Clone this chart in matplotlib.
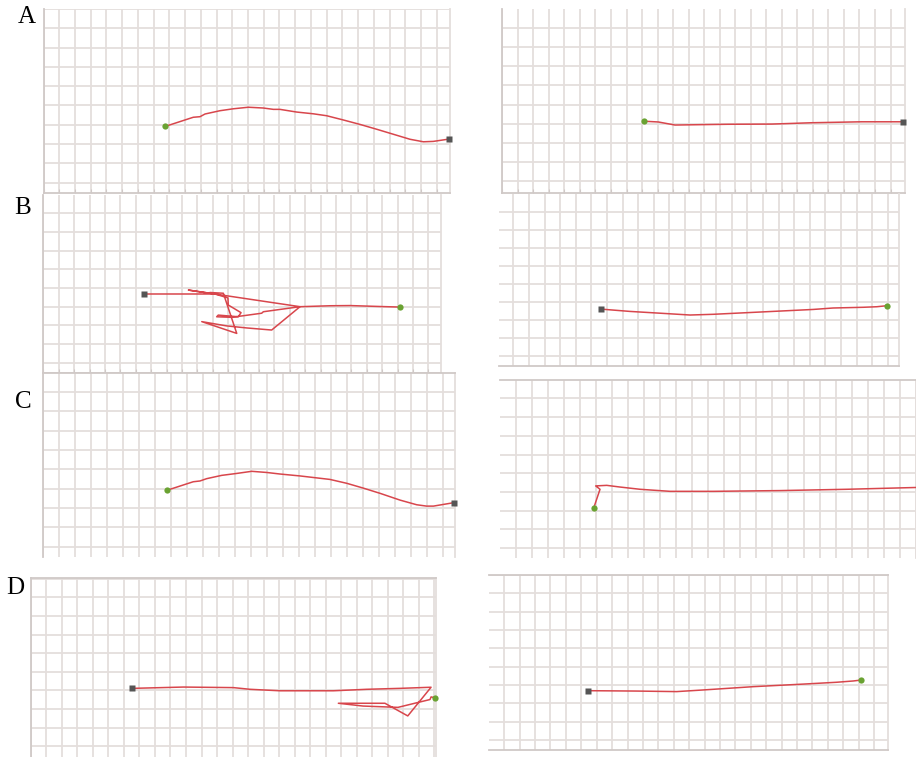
import matplotlib
matplotlib.use("Agg")
import matplotlib.pyplot as plt
from matplotlib.ticker import MultipleLocator

# trajectories in grid-cell units, each ordered from the green dot to the square
a_left_x = [7.75, 9.52, 9.95, 10.27, 11.22, 12.07, 13.02, 13.97, 14.61, 15.03, 16.10,
            17.15, 18.00, 19.06, 20.12, 21.18, 22.24, 23.30, 24.15, 24.78, 25.78]
a_left_y = [2.92, 3.39, 3.42, 3.56, 3.73, 3.83, 3.91, 3.87, 3.80, 3.80, 3.66,
            3.57, 3.47, 3.25, 3.02, 2.77, 2.51, 2.25, 2.12, 2.14, 2.26]

a_right_x = [9.12, 10.05, 11.12, 14.55, 17.35, 19.92, 23.14, 25.82]
a_right_y = [3.13, 3.09, 2.93, 2.97, 2.98, 3.05, 3.10, 3.10]

b_left_x = [23.13, 21.86, 19.92, 18.62, 16.67, 14.83, 13.23, 11.91, 10.29, 12.56, 11.69,
            10.82, 11.99, 12.01, 12.84, 12.66, 11.36, 11.26, 12.23, 14.18, 14.29, 16.67,
            9.42, 11.15, 6.54]
b_left_y = [2.98, 3.01, 3.06, 3.05, 3.00, 1.75, 1.86, 1.97, 2.20, 1.57, 3.72,
            3.76, 3.47, 3.09, 2.68, 2.46, 2.55, 2.46, 2.43, 2.65, 2.73, 3.00,
            3.89, 3.68, 3.68]

b_right_x = [24.98, 24.30, 23.44, 21.50, 20.23, 18.10, 15.96, 13.82, 12.33, 10.62, 8.48, 6.60]
b_right_y = [2.78, 2.72, 2.69, 2.65, 2.57, 2.48, 2.39, 2.30, 2.26, 2.35, 2.46, 2.59]

c_left_x = [7.75, 9.39, 9.81, 10.23, 11.17, 12.11, 13.05, 13.99, 14.82, 16.08, 17.95,
            19.00, 20.04, 21.09, 22.34, 23.38, 24.00, 24.43, 25.72]
c_left_y = [2.92, 3.36, 3.40, 3.52, 3.69, 3.79, 3.90, 3.84, 3.76, 3.66, 3.48,
            3.28, 3.03, 2.76, 2.41, 2.17, 2.10, 2.10, 2.28]

c_right_x = [5.88, 6.27, 6.00, 6.69, 7.52, 8.77, 10.65, 13.35, 17.52, 21.69, 26.20]
c_right_y = [2.15, 3.14, 3.32, 3.35, 3.26, 3.14, 3.03, 3.03, 3.07, 3.14, 3.24]

d_left_x = [26.03, 25.78, 25.71, 25.07, 23.65, 21.40, 19.81, 22.81, 24.28, 25.78, 23.78,
            21.64, 19.49, 16.05, 14.12, 13.05, 9.83, 6.54]
d_left_y = [2.61, 2.65, 2.51, 2.38, 2.09, 2.16, 2.31, 2.31, 1.63, 3.17, 3.11,
            3.06, 2.98, 2.98, 3.06, 3.15, 3.18, 3.11]

d_right_x = [24.16, 23.66, 22.58, 20.42, 17.17, 13.92, 12.19, 9.60, 6.46]
d_right_y = [3.27, 3.22, 3.15, 3.05, 2.91, 2.73, 2.64, 2.67, 2.69]

panel_labels = ["A", "B", "C", "D"]

W, H = 916, 757
GRID = "#e4dedc"
SPINE = "#d0c9c7"
RED = "#d8464c"

# layout in pixels: x0, cell w, left, right, y0, cell h, top, bottom, spines, ticks, square
panels = [
    (a_left_x, a_left_y, 43.5, 15.73, 43.5, 449.5, 182.7, 19.3, 9, 193, ["left", "bottom"], True, True),
    (a_right_x, a_right_y, 502.3, 15.53, 502.3, 905, 181, 19.1, 9.3, 192.7, ["left", "bottom"], True, True),
    (b_left_x, b_left_y, 43.3, 15.4, 43.3, 440.7, 362.7, 18.67, 195, 372.7, ["left", "bottom"], True, True),
    (b_right_x, b_right_y, 497.7, 15.6, 499, 899, 355.7, 18.0, 194, 366, ["bottom"], False, True),
    (c_left_x, c_left_y, 43.3, 15.97, 43.3, 454.7, 546.7, 19.33, 373.3, 556.7, ["left", "top"], False, True),
    (c_right_x, c_right_y, 499.7, 16.0, 500, 916, 548, 18.7, 380, 558.3, ["top"], False, False),
    (d_left_x, d_left_y, 30.7, 15.53, 30.7, 435.5, 746.3, 18.63, 578.3, 757, ["left", "top"], False, True),
    (d_right_x, d_right_y, 488.9, 15.4, 489.3, 888.3, 740, 18.33, 575, 750.3, ["top", "bottom"], False, True),
]

fig = plt.figure(figsize=(W / 100, H / 100), dpi=100)

for xs, ys, x0, cw, left, right, y0, ch, top, bottom, spines, ticks, square in panels:
    ax = fig.add_axes([left / W, 1 - bottom / H, (right - left) / W, (bottom - top) / H])
    ax.set_xlim((left - x0) / cw, (right - x0) / cw)
    ax.set_ylim((y0 - bottom) / ch, (y0 - top) / ch)
    ax.xaxis.set_major_locator(MultipleLocator(1))
    ax.yaxis.set_major_locator(MultipleLocator(1))
    ax.grid(True, color=GRID, lw=1.3)
    ax.set_axisbelow(True)
    ax.tick_params(labelleft=False, labelbottom=False, left=False, bottom=ticks,
                   direction="in", length=3, color=SPINE)
    for name, sp in ax.spines.items():
        if name in spines:
            sp.set_color(SPINE)
            sp.set_linewidth(1.3)
        elif name == "right":
            sp.set_color(GRID)
            sp.set_linewidth(1.3)
        else:
            sp.set_visible(False)
    ax.plot(xs, ys, color=RED, lw=1.1, zorder=3)
    ax.plot(xs[0], ys[0], "o", color="#6aa232", ms=4.5, mec="none", zorder=4, clip_on=False)
    if square:
        ax.plot(xs[-1], ys[-1], "s", color="#555555", ms=5, mec="none", zorder=4, clip_on=False)

label_pos = [(27, 17), (23, 208), (23, 402), (15, 588)]
for lab, (px, py) in zip(panel_labels, label_pos):
    fig.text(px / W, 1 - py / H, lab, family="Liberation Serif", fontsize=18,
             ha="center", va="center")

fig.savefig("out.png", dpi=100)
